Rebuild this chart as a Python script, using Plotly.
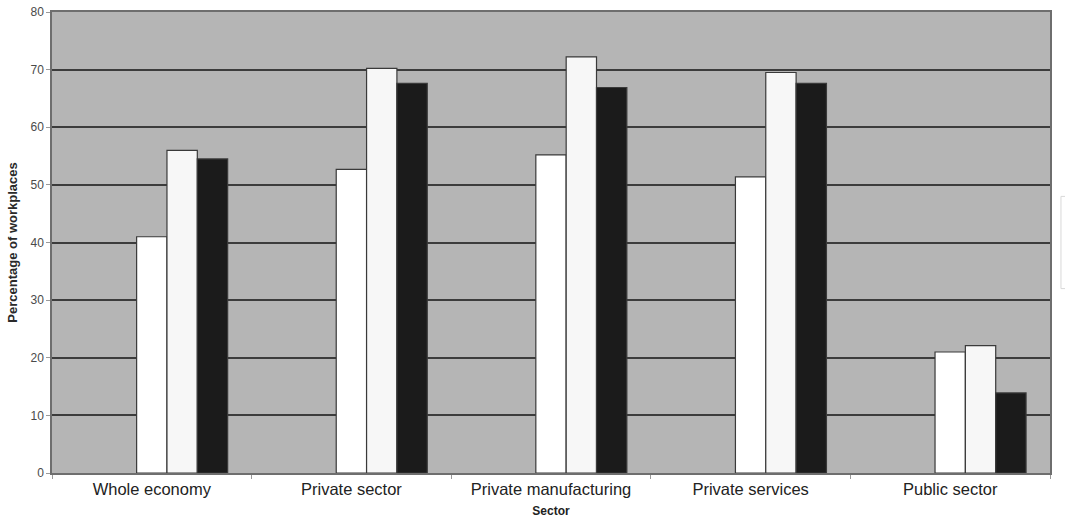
import plotly.graph_objects as go

# Sectors on the category axis
sectors = ["Whole economy", "Private sector", "Private manufacturing",
           "Private services", "Public sector"]

# Percentage of workplaces per survey series (first two series have no data)
series_a = [None, None, None, None, None]
series_b = [None, None, None, None, None]
series_c = [41.0, 52.7, 55.2, 51.4, 21.0]
series_d = [56.0, 70.2, 72.2, 69.5, 22.1]
series_e = [54.5, 67.6, 66.9, 67.6, 13.9]

series_names = ["Series A", "Series B", "Series C", "Series D", "Series E"]
series_values = [series_a, series_b, series_c, series_d, series_e]
series_colors = ["#ffffff", "#ffffff", "#ffffff", "#f7f7f7", "#1b1b1b"]

y_ticks = [0, 10, 20, 30, 40, 50, 60, 70, 80]

fig = go.Figure()
for name, vals, col in zip(series_names, series_values, series_colors):
    fig.add_trace(go.Bar(
        x=sectors, y=vals, name=name,
        marker=dict(color=col, line=dict(color="#3a3a3a", width=1.2)),
    ))

fig.update_layout(
    width=1065, height=519,
    margin=dict(l=52, r=15, t=12, b=46, autoexpand=False),
    paper_bgcolor="#ffffff",
    plot_bgcolor="#b5b5b5",
    barmode="group",
    bargap=0.24,
    bargroupgap=0,
    showlegend=False,
    font=dict(family="Liberation Sans, Arial, sans-serif", color="#222222"),
)

fig.update_xaxes(
    showline=True, linecolor="#6e6e6e", linewidth=1.5, mirror=True,
    ticks="outside", tickson="boundaries", ticklen=4, tickcolor="#9a9a9a",
    tickfont=dict(size=16.5, color="#222222"),
    title=dict(text="<b>Sector</b>", font=dict(size=12, color="#222222"), standoff=10),
    showgrid=False,
)

fig.update_yaxes(
    range=[0, 80], tickvals=y_ticks,
    showline=True, linecolor="#6e6e6e", linewidth=1.5, mirror=True,
    ticks="outside", ticklen=4, tickcolor="#9a9a9a",
    tickfont=dict(size=12, color="#4a4a4a"),
    showgrid=True, gridcolor="#3c3c3c", gridwidth=1.5,
    zeroline=False,
    title=dict(text="<b>Percentage of workplaces</b>", font=dict(size=13, color="#2a2a2a"),
               standoff=10),
)

# Partially visible legend frame at the right edge
fig.add_shape(
    type="rect", xref="paper", yref="paper",
    x0=1.011, x1=1.06, y0=0.40, y1=0.60,
    line=dict(color="#d8d8d8", width=1), fillcolor="rgba(0,0,0,0)",
    layer="above",
)

fig.write_html("out.html")
